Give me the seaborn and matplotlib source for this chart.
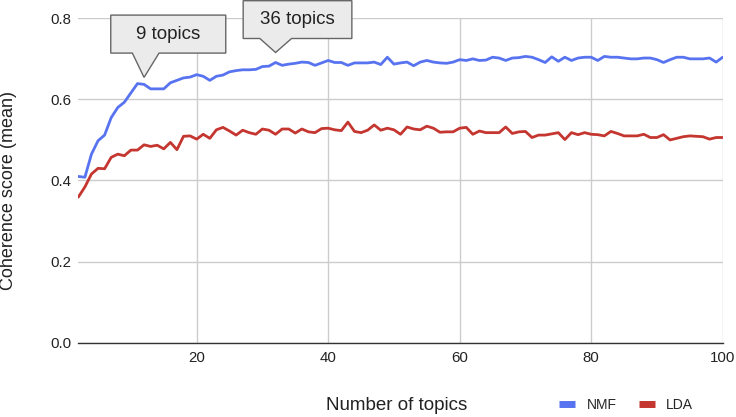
import numpy as np
import pandas as pd
import matplotlib
matplotlib.use("Agg")
import matplotlib.pyplot as plt
import matplotlib.transforms as mtransforms
from matplotlib.patches import Polygon
from matplotlib.lines import Line2D
import seaborn as sns

# data
topics = list(range(2, 101))
nmf = [
    0.410, 0.408, 0.465, 0.498, 0.512, 0.555, 0.580, 0.593, 0.616, 0.639,
    0.637, 0.626, 0.626, 0.626, 0.641, 0.647, 0.653, 0.655, 0.661, 0.657,
    0.647, 0.657, 0.660, 0.668, 0.671, 0.673, 0.673, 0.674, 0.681, 0.682,
    0.691, 0.684, 0.687, 0.689, 0.692, 0.691, 0.684, 0.690, 0.696, 0.691,
    0.691, 0.684, 0.690, 0.690, 0.690, 0.692, 0.686, 0.704, 0.687, 0.690,
    0.692, 0.683, 0.692, 0.696, 0.692, 0.690, 0.689, 0.692, 0.698, 0.696,
    0.700, 0.696, 0.697, 0.704, 0.702, 0.696, 0.702, 0.703, 0.706, 0.704,
    0.698, 0.691, 0.705, 0.694, 0.704, 0.696, 0.702, 0.704, 0.704, 0.696,
    0.706, 0.704, 0.704, 0.702, 0.700, 0.700, 0.702, 0.702, 0.698, 0.691,
    0.698, 0.704, 0.704, 0.700, 0.700, 0.700, 0.702, 0.692, 0.704,
]
lda = [
    0.359, 0.384, 0.416, 0.430, 0.429, 0.457, 0.465, 0.461, 0.475, 0.475,
    0.488, 0.484, 0.487, 0.478, 0.494, 0.476, 0.509, 0.510, 0.502, 0.514,
    0.504, 0.525, 0.531, 0.522, 0.512, 0.524, 0.518, 0.514, 0.527, 0.524,
    0.514, 0.527, 0.527, 0.517, 0.527, 0.520, 0.518, 0.528, 0.529, 0.525,
    0.523, 0.544, 0.521, 0.518, 0.524, 0.537, 0.524, 0.529, 0.525, 0.514,
    0.532, 0.527, 0.525, 0.534, 0.529, 0.519, 0.520, 0.520, 0.529, 0.531,
    0.514, 0.522, 0.518, 0.518, 0.518, 0.532, 0.516, 0.520, 0.521, 0.506,
    0.512, 0.512, 0.515, 0.518, 0.501, 0.518, 0.513, 0.518, 0.514, 0.513,
    0.510, 0.521, 0.516, 0.510, 0.510, 0.510, 0.514, 0.506, 0.506, 0.513,
    0.500, 0.504, 0.508, 0.510, 0.509, 0.508, 0.502, 0.506, 0.506,
]
series_names = ["NMF", "LDA"]
colors = {"NMF": "#5873f0", "LDA": "#c4362f"}
callouts = [(12, "9 topics"), (32, "36 topics")]

df = pd.DataFrame({
    "topics": topics * 2,
    "score": nmf + lda,
    "model": ["NMF"] * len(nmf) + ["LDA"] * len(lda),
})

sns.set_theme(style="white")
plt.rcParams["font.family"] = ["Liberation Sans", "DejaVu Sans"]

fig = plt.figure(figsize=(7.36, 4.17), dpi=100)
ax = fig.add_axes([78.3 / 736, 1 - 342.7 / 417, (722.7 - 78.3) / 736, (342.7 - 18.3) / 417])

sns.lineplot(data=df, x="topics", y="score", hue="model", palette=colors,
             hue_order=series_names, linewidth=2.0, ax=ax, legend=False)

ax.set_xlim(2, 100)
ax.set_ylim(0, 0.8)
ax.set_xticks([20, 40, 60, 80, 100])
ax.set_yticks([0.0, 0.2, 0.4, 0.6, 0.8])
ax.set_yticklabels(["0.0", "0.2", "0.4", "0.6", "0.8"])
ax.grid(True, color="#cccccc", linewidth=1.0)
ax.set_axisbelow(True)
for s in ["top", "right", "left"]:
    ax.spines[s].set_visible(False)
ax.spines["bottom"].set_color("#333333")
ax.spines["bottom"].set_linewidth(1.0)
ax.spines["bottom"].set_zorder(3)
ax.tick_params(axis="both", length=0, labelsize=10.8, colors="#222222")
ax.tick_params(axis="y", pad=5)
ax.tick_params(axis="x", pad=6)
ax.set_xlabel("")
ax.set_ylabel("")

fig.text(397 / 736, 1 - 405 / 417, "Number of topics", ha="center", va="center",
         fontsize=13.5, color="#222222")
fig.text(9 / 736, 1 - 191 / 417, "Coherence score (mean)", ha="center", va="center",
         rotation=90, fontsize=13, color="#222222")

handles = [Line2D([], [], color=colors[n], linewidth=5, solid_capstyle="butt")
           for n in series_names]
fig.legend(handles, series_names, loc="center", bbox_to_anchor=(626 / 736, 1 - 405 / 417),
           ncol=2, frameon=False, fontsize=10, handlelength=1.15, handletextpad=0.8,
           columnspacing=1.6)

# callout boxes (pixel offsets relative to the labelled point)
shapes = {
    "9 topics": dict(lift=7, left=-33.3, right=81.7, bot=24.3, top=62.3, pl=-11.7, pr=15.0),
    "36 topics": dict(lift=10, left=-32.4, right=76.3, bot=14.0, top=51.8, pl=-15.7, pr=16.0),
}
for xval, label in callouts:
    yval = nmf[topics.index(xval)]
    trans = fig.dpi_scale_trans + mtransforms.ScaledTranslation(xval, yval, ax.transData)
    s = shapes[label]
    lift = s["lift"]
    verts = [
        (0, lift), (s["pr"], lift + s["bot"]), (s["right"], lift + s["bot"]),
        (s["right"], lift + s["top"]), (s["left"], lift + s["top"]),
        (s["left"], lift + s["bot"]), (s["pl"], lift + s["bot"]),
    ]
    verts = [(vx / 100, vy / 100) for vx, vy in verts]
    poly = Polygon(verts, closed=True, facecolor="#ebebeb", edgecolor="#666666",
                   linewidth=1.0, transform=trans, clip_on=False, zorder=5)
    ax.add_patch(poly)
    cx = (s["left"] + s["right"]) / 2 / 100
    cy = (lift + (s["bot"] + s["top"]) / 2) / 100
    ax.text(cx, cy, label, transform=trans, ha="center", va="center",
            fontsize=13.5, color="#222222", zorder=6, clip_on=False)

fig.savefig("out.png", dpi=100)
